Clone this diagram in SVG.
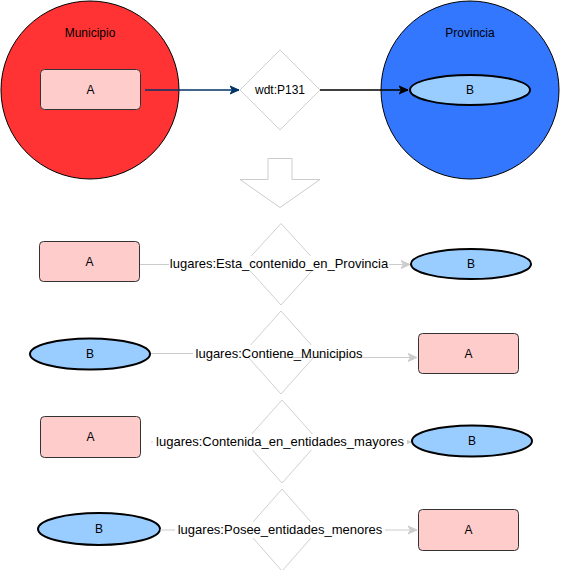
<svg xmlns="http://www.w3.org/2000/svg" width="561" height="570" viewBox="0 0 561 570">
<style>
text{font-family:"Liberation Sans",Arial,sans-serif;fill:#000;text-anchor:middle;dominant-baseline:central}
.n{font-size:12px}
.l{font-size:13px}
.rectA{fill:#ffcccc;stroke:#333;stroke-width:1}
.ellB{fill:#99ccff;stroke:#000;stroke-width:2}
.dia{fill:#fff;stroke:#d0d0d0;stroke-width:1}
.gl{fill:none;stroke:#cccccc;stroke-width:1}
.bg{fill:#fff}
</style>
<defs>
<marker id="ab" markerWidth="10" markerHeight="10" refX="9" refY="5" orient="auto" markerUnits="userSpaceOnUse"><path d="M0,1 L9,5 L0,9 L2.5,5 Z" fill="#003366" stroke="#003366"/></marker>
<marker id="ak" markerWidth="10" markerHeight="10" refX="9" refY="5" orient="auto" markerUnits="userSpaceOnUse"><path d="M0,1 L9,5 L0,9 L2.5,5 Z" fill="#000" stroke="#000"/></marker>
<marker id="ag" markerWidth="10" markerHeight="10" refX="9" refY="5" orient="auto" markerUnits="userSpaceOnUse"><path d="M0,1 L9,5 L0,9 L2.5,5 Z" fill="#cccccc" stroke="#cccccc"/></marker>
</defs>

<g id="municipio">
<circle cx="90" cy="90" r="89" fill="#ff3333" stroke="#000" stroke-width="1"/>
<text class="n" x="90" y="33">Municipio</text>
</g>
<g id="provincia">
<circle cx="470" cy="90" r="89" fill="#3377ff" stroke="#000" stroke-width="1"/>
<text class="n" x="470" y="33">Provincia</text>
</g>
<g id="top-A">
<rect class="rectA" x="40.5" y="69.5" width="100" height="40" rx="4"/>
<text class="n" x="90.5" y="89.5">A</text>
</g>
<g id="top-B">
<ellipse class="ellB" cx="470" cy="90" rx="60" ry="15"/>
<text class="n" x="470" y="90">B</text>
</g>
<g id="top-diamond">
<polygon class="dia" points="280,50 320,90 280,130 240,90"/>
<text class="n" x="280" y="90">wdt:P131</text>
</g>
<g id="down-arrow">
<polygon points="268,158.5 292,158.5 292,179.5 320,179.5 280,207.5 240,179.5 268,179.5" fill="#fff" stroke="#cccccc" stroke-width="1"/>
</g>

<g id="r1-A"><rect class="rectA" x="39.5" y="241.5" width="100" height="40" rx="4"/><text class="n" x="89.5" y="261.5">A</text></g>
<g id="r1-diamond"><polygon class="dia" points="281,223.5 318,264 281,305 244,264"/></g>
<g id="r1-B"><ellipse class="ellB" cx="471" cy="264" rx="60" ry="15"/><text class="n" x="471" y="264">B</text></g>

<g id="r2-B"><ellipse class="ellB" cx="90" cy="354" rx="60" ry="15.5"/><text class="n" x="90" y="354">B</text></g>
<g id="r2-diamond"><polygon class="dia" points="281,311 318,352.5 281,394 244,352.5"/></g>
<g id="r2-A"><rect class="rectA" x="418.5" y="333.5" width="100" height="40" rx="4"/><text class="n" x="468.5" y="353.5">A</text></g>

<g id="r3-A"><rect class="rectA" x="40.5" y="416.5" width="100" height="41" rx="4"/><text class="n" x="90.5" y="437">A</text></g>
<g id="r3-diamond"><polygon class="dia" points="282,400 319,441.5 282,483 245,441.5"/></g>
<g id="r3-B"><ellipse class="ellB" cx="472" cy="441" rx="60" ry="15.5"/><text class="n" x="472" y="441">B</text></g>

<g id="r4-B"><ellipse class="ellB" cx="99" cy="529" rx="61" ry="16"/><text class="n" x="99" y="529">B</text></g>
<g id="r4-diamond"><polygon class="dia" points="282,489 318,530 282,571 246,530"/></g>
<g id="r4-A"><rect class="rectA" x="418.5" y="509.5" width="100" height="41" rx="4"/><text class="n" x="468.5" y="530">A</text></g>

<g id="connectors">
<path d="M145,90 H239" fill="none" stroke="#003366" stroke-width="1.3" marker-end="url(#ab)"/>
<path d="M320,90 H408" fill="none" stroke="#000" stroke-width="1.3" marker-end="url(#ak)"/>

<path class="gl" d="M140,264.5 H410" marker-end="url(#ag)"/>
<rect class="bg" x="169" y="256" width="220" height="15"/>
<text class="l" x="279" y="263.5">lugares:Esta_contenido_en_Provincia</text>

<path class="gl" d="M151,353.5 H280 V357.5 H417" marker-end="url(#ag)"/>
<rect class="bg" x="193" y="345" width="172" height="12"/>
<text class="l" x="279" y="353">lugares:Contiene_Municipios</text>

<path class="gl" d="M151,442 H411" marker-end="url(#ag)"/>
<rect class="bg" x="153" y="434" width="254" height="16"/>
<text class="l" x="280" y="441.5">lugares:Contenida_en_entidades_mayores</text>

<path class="gl" d="M160,530 H417" marker-end="url(#ag)"/>
<rect class="bg" x="175" y="522" width="210" height="16"/>
<text class="l" x="280" y="529.5">lugares:Posee_entidades_menores</text>
</g>
</svg>
